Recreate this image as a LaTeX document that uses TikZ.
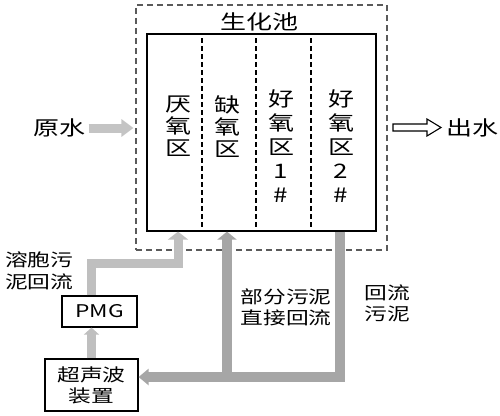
\documentclass[tikz,border=0pt]{standalone}
\usepackage{fontspec}
\setmainfont{Noto Sans CJK SC}[FakeStretch=1.3]
\usetikzlibrary{arrows.meta,calc}
\definecolor{flowdark}{HTML}{A6A6A6}
\definecolor{flowlight}{HTML}{BFBFBF}
\definecolor{inletgray}{HTML}{C4C4C4}
\definecolor{dashgray}{HTML}{5A5A5A}
\begin{document}
\begin{tikzpicture}[x=1pt,y=-1pt,
  lbl/.style={inner sep=0pt, align=center},
  bigtext/.style={font=\fontsize{20}{22}\selectfont},
  tallcol/.style={font=\fontsize{20}{24}\selectfont},
  midtext/.style={font=\fontsize{17.5}{21}\selectfont},
  boxstyle/.style={draw=black, line width=1.2pt, inner sep=0pt},
  flowl/.style={draw=flowlight, line width=9pt},
  flowd/.style={draw=flowdark, line width=9.5pt},
  divider/.style={draw=black, line width=1.1pt, dash pattern=on 5pt off 3pt},
]
\useasboundingbox (0,0) rectangle (500,415);

% coordinates of flow bends
\coordinate (c1) at (178,263);
\coordinate (c2) at (227,377);
\coordinate (c3) at (340,377);

% boxes
\node[draw=dashgray, dash pattern=on 6pt off 4pt, line width=1.1pt,
      minimum width=251pt, minimum height=245pt, inner sep=0pt] (pool) at (261.5,127.5) {};
\node[boxstyle, minimum width=229pt, minimum height=197pt] (tank) at (261.5,132.5) {};
\node[boxstyle, midtext, minimum width=75pt, minimum height=31pt] (pmg) at (99.5,311.5) {PMG};
\node[boxstyle, midtext, align=center, minimum width=93pt, minimum height=52pt] (ult) at (91.5,385) {超声波\\装置};

% dividers
\foreach \x in {202,256,311} \draw[divider] (\x,38) -- (\x,231);

% texts
\node[lbl,bigtext] (title) at (259,22) {生化池};
\node[lbl,bigtext] (z1) at (178,126.5) {厌\\氧\\区};
\node[lbl,bigtext] (z2) at (227,126.5) {缺\\氧\\区};
\node[lbl,tallcol] (z3) at (281,146.5) {好\\氧\\区\\1\\\#};
\node[lbl,tallcol] (z4) at (341,146.5) {好\\氧\\区\\2\\\#};
\node[lbl,bigtext] (yuan) at (59,128) {原水};
\node[lbl,bigtext] (chu) at (472,128) {出水};
\node[lbl,align=left,anchor=west,font=\fontsize{17.5}{22}\selectfont] (rongbao) at (5,271) {溶胞污\\泥回流};
\node[lbl,midtext] (bufen) at (286,307.5) {部分污泥\\直接回流};
\node[lbl,midtext] (huiliu) at (387,303.5) {回流\\污泥};

% inlet arrow
\draw[draw=inletgray, line width=9pt, -{Triangle[width=17pt,length=12pt]}, shorten >=2pt]
  ($(yuan.east)+(3.5,0)$) -- (yuan.east -| pool.west);
% outlet arrow (outline)
\draw[line width=1.1pt, fill=white, line join=miter]
  (393,124) -- (427,124) -- (427,119) -- (441,127.5) -- (427,136) -- (427,131) -- (393,131) -- cycle;

% sludge flows
\draw[flowl, -{Triangle[width=15pt,length=7pt]}] (ult.north) -- (ult.north |- pmg.south);
\draw[flowl, -{Triangle[width=20pt,length=8pt]}] (pmg.north -| ult.north) |- (c1) -- (c1 |- tank.south);
\draw[flowd, -{Triangle[width=19pt,length=8pt]}] (c2) -- (c2 |- tank.south);
\draw[flowd, -{Triangle[width=16pt,length=10pt]}] (c3 |- tank.south) -- (c3) -- (c3 -| ult.east);
\end{tikzpicture}
\end{document}
